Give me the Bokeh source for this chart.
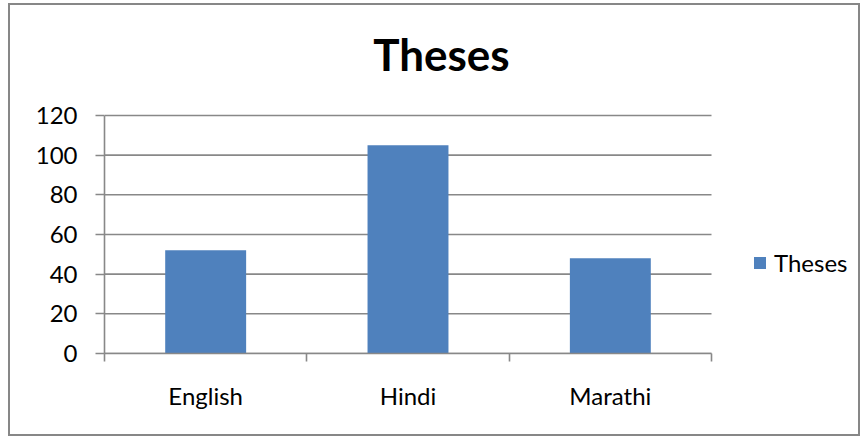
from bokeh.plotting import figure
from bokeh.models import Range1d, LinearAxis, FixedTicker, Legend, LegendItem, Label
from bokeh.embed import file_html
from bokeh.resources import INLINE

# ---- data ----
title_text = "Theses"
series_name = "Theses"
categories = ["English", "Hindi", "Marathi"]
values = [52, 105, 48]
y_ticks = [0, 20, 40, 60, 80, 100, 120]

BAR = "#4F81BD"
GRID = "#888888"
LW = 1.6
FONT = "Lato"

n = len(categories)
centers = [i + 0.5 for i in range(n)]      # category slots
bounds = list(range(n + 1))                # category boundaries

# the frame extends beyond the category area (right: legend, top: title)
X_END = n * (860 - 104) / (711 - 104)
Y_TOP = 172.9

p = figure(
    x_range=Range1d(0, X_END),
    y_range=Range1d(0, Y_TOP),
    width=852, height=433,
    output_backend="svg", toolbar_location=None,
    x_axis_type=None,
    min_border_left=94, min_border_right=2,
    min_border_top=5, min_border_bottom=85,
)
p.styles = {"border": "2px solid #878787", "margin-left": "8px", "margin-top": "3px"}
p.outline_line_color = None
p.background_fill_color = "white"
p.border_fill_color = "white"
p.ygrid.visible = False

# horizontal gridlines over the category area
p.segment(x0=[bounds[0]] * len(y_ticks), x1=[bounds[-1]] * len(y_ticks),
          y0=y_ticks, y1=y_ticks, line_color=GRID, line_width=LW)

r = p.vbar(x=centers, top=values, width=0.4, fill_color=BAR, line_color=None)

# y axis
ya = p.yaxis[0]
ya.ticker = FixedTicker(ticks=y_ticks)
ya.bounds = (y_ticks[0], y_ticks[-1])
ya.axis_line_color = GRID
ya.axis_line_width = LW
ya.major_tick_line_color = GRID
ya.major_tick_line_width = LW
ya.major_tick_out = 9
ya.major_tick_in = 0
ya.minor_tick_line_color = None
ya.major_label_text_font = FONT
ya.major_label_text_font_size = "24px"
ya.major_label_text_color = "black"
ya.major_label_standoff = 18

# x axis: labels at category centres, ticks at category boundaries
xa = LinearAxis(
    ticker=FixedTicker(ticks=centers, minor_ticks=bounds),
    major_label_overrides={c: lab for c, lab in zip(centers, categories)},
    bounds=(bounds[0], bounds[-1]),
)
xa.axis_line_color = GRID
xa.axis_line_width = LW
xa.major_tick_line_color = None
xa.major_tick_out = 0
xa.major_tick_in = 0
xa.minor_tick_line_color = GRID
xa.minor_tick_line_width = LW
xa.minor_tick_out = 8
xa.minor_tick_in = 0
xa.major_label_text_font = FONT
xa.major_label_text_font_size = "24px"
xa.major_label_text_color = "black"
xa.major_label_standoff = 19
p.add_layout(xa, "below")

# title
p.add_layout(Label(x=1.665, y=150.8, text=title_text, text_align="center",
                   text_baseline="middle", text_font=FONT, text_font_style="bold",
                   text_font_size="44px", text_color="black"))

# legend
lg = Legend(items=[LegendItem(label=series_name, renderers=[r])],
            location=(648, 76), padding=0, margin=0, border_line_color=None,
            background_fill_alpha=0, glyph_width=15, glyph_height=15,
            label_standoff=7, label_text_font=FONT, label_text_font_size="24px",
            label_text_color="black")
p.add_layout(lg, "center")

open("out.html", "w").write(file_html(p, INLINE))
